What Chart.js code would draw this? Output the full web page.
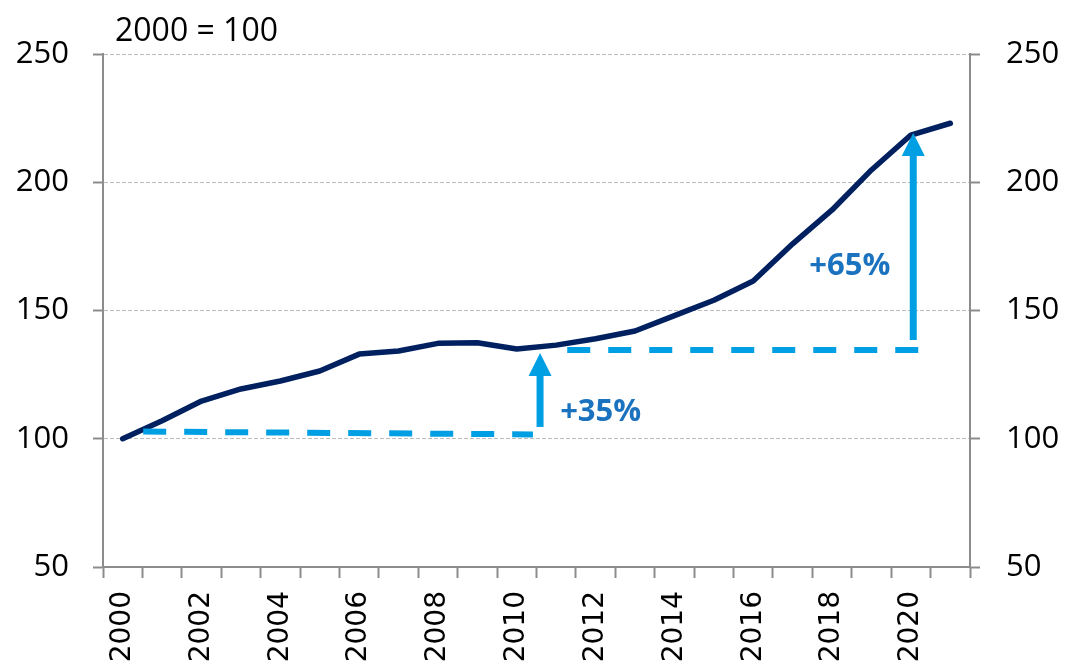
<!DOCTYPE html>
<html><head><meta charset="utf-8">
<script src="https://cdn.jsdelivr.net/npm/chart.js@4/dist/chart.umd.min.js"></script>
<style>html,body{margin:0;padding:0;background:#fff;} #wrap{width:1065px;height:666px;position:relative;}</style>
</head><body><div id="wrap"><canvas id="c"></canvas></div>
<script>
const years = ['2000','2001','2002','2003','2004','2005','2006','2007','2008','2009','2010','2011','2012','2013','2014','2015','2016','2017','2018','2019','2020','2021'];
const indexValues = [100,107,114.7,119.4,122.5,126.4,133,134.2,137.2,137.4,135,136.5,139,142,148,154,161.5,176,189.2,204.8,218.4,223];
const yMin = 50, yMax = 250, yStep = 50;
const subtitle = '2000 = 100';
// reference levels (x as fractional category index, y as index value)
const refLine1 = [[0.52, 102.8], [10.41, 101.7]];
const refLine2 = [[11.28, 134.6], [20.26, 134.6]];
// arrows: [x index, from value, to value]
const arrow35 = [10.59, 104.6, 133.4];
const arrow65 = [20.06, 138.5, 219.2];
// labels: [text, x index (left edge), y value (middle)]
const label35 = ['+35%', 11.10, 110.4];
const label65 = ['+65%', 17.42, 167.3];

const NAVY = '#002060', LIGHT = '#009FE3', TXT = '#1B72BF', AXIS = '#8C8C8C', GRID = '#BDBDBD';

const annot = {
  id: 'annot',
  afterDatasetsDraw(chart) {
    const {ctx, scales: {x, y}, chartArea} = chart;
    ctx.save();
    ctx.strokeStyle = LIGHT; ctx.lineWidth = 6; ctx.setLineDash([23, 18]); ctx.lineCap = 'butt';
    for (const seg of [refLine1, refLine2]) {
      ctx.beginPath();
      ctx.moveTo(x.getPixelForValue(seg[0][0]), y.getPixelForValue(seg[0][1]));
      ctx.lineTo(x.getPixelForValue(seg[1][0]), y.getPixelForValue(seg[1][1]));
      ctx.stroke();
    }
    ctx.setLineDash([]);
    for (const a of [arrow35, arrow65]) {
      const px = x.getPixelForValue(a[0]);
      const y0 = y.getPixelForValue(a[1]);
      const y1 = y.getPixelForValue(a[2]);
      const hh = 23, hw = 23;
      ctx.lineWidth = 7;
      ctx.beginPath(); ctx.moveTo(px, y0); ctx.lineTo(px, y1 + hh - 1); ctx.stroke();
      ctx.fillStyle = LIGHT;
      ctx.beginPath(); ctx.moveTo(px, y1); ctx.lineTo(px - hw / 2, y1 + hh); ctx.lineTo(px + hw / 2, y1 + hh); ctx.closePath(); ctx.fill();
    }
    ctx.fillStyle = TXT; ctx.font = 'bold 31px "Open Sans"'; ctx.textAlign = 'left'; ctx.textBaseline = 'middle';
    for (const l of [label35, label65]) {
      ctx.fillText(l[0], x.getPixelForValue(l[1]), y.getPixelForValue(l[2]));
    }
    ctx.fillStyle = '#000'; ctx.font = '32px "Open Sans"'; ctx.textBaseline = 'alphabetic';
    ctx.fillText(subtitle, chartArea.left + 12, chartArea.top - 13);
    ctx.restore();
  }
};

new Chart(document.getElementById('c'), {
  type: 'line',
  data: {
    labels: years,
    datasets: [{
      data: indexValues, borderColor: NAVY, borderWidth: 5.5, pointRadius: 0, tension: 0,
      borderCapStyle: 'round', borderJoinStyle: 'round', yAxisID: 'y'
    }]
  },
  options: {
    responsive: true, maintainAspectRatio: false, animation: false,
    layout: {padding: {top: 54, left: 0, right: 0, bottom: 0}},
    plugins: {legend: {display: false}, tooltip: {enabled: false}},
    scales: {
      x: {
        type: 'category', offset: true,
        grid: {offset: true, drawOnChartArea: false, drawTicks: true, tickLength: 11, tickColor: AXIS, tickWidth: 2},
        border: {color: AXIS, width: 2},
        ticks: {autoSkip: false, minRotation: 90, maxRotation: 90, padding: 13, color: '#000',
          font: {family: '"DejaVu Sans"', size: 28},
          callback(v, i) { return i % 2 === 0 ? years[i] : ''; }},
        afterFit(s) { s.height = 99; }
      },
      y: {
        position: 'left', min: yMin, max: yMax,
        ticks: {stepSize: yStep, padding: 24, color: '#000', font: {family: '"Open Sans"', size: 31}},
        grid: {color: GRID, lineWidth: 1, tickColor: AXIS, tickLength: 10, tickWidth: 2},
        border: {color: AXIS, width: 2, dash: [4, 2]},
        afterFit(s) { s.width = 103; }
      },
      y2: {
        position: 'right', min: yMin, max: yMax,
        ticks: {stepSize: yStep, padding: 26, color: '#000', font: {family: '"Open Sans"', size: 31}},
        grid: {drawOnChartArea: false, tickColor: AXIS, tickLength: 10, tickWidth: 2},
        border: {color: AXIS, width: 2},
        afterFit(s) { s.width = 95; }
      }
    }
  },
  plugins: [annot]
});
</script>
</body></html>
